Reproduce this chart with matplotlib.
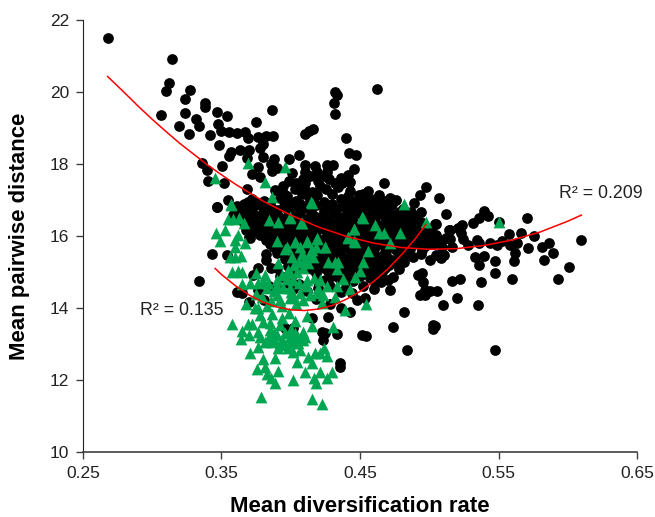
import matplotlib
matplotlib.use('Agg')
import matplotlib.pyplot as plt

plt.rcParams['font.family'] = ['Liberation Sans', 'DejaVu Sans']

# values
x_ticks = [0.25, 0.35, 0.45, 0.55, 0.65]
x_tick_labels = ['0.25', '0.35', '0.45', '0.55', '0.65']
y_ticks = [10, 12, 14, 16, 18, 20, 22]

# upper left scatter
black_upper = [
    (.2678,21.49),(.3145,20.91),(.3123,20.25),(.3099,20.04),(.3272,20.06),(.3236,19.80),(.3383,19.69),
    (.3378,19.59),(.3236,19.42),(.3065,19.37),(.3467,19.44),(.3542,19.33),(.3316,19.24),(.3335,19.05),
    (.3193,19.06),(.3267,18.83),(.3414,18.81),(.3477,19.12),(.3499,18.92),(.3554,18.88),(.3614,18.85),
    (.3669,18.90),(.3689,18.73),(.3766,18.75),(.3821,18.79),(.3869,18.78),(.3862,19.50),(.3746,19.17),
    (.3482,18.52),(.3799,18.56),(.3780,18.44),(.3568,18.34),(.3551,18.23),(.3636,18.38),(.3696,18.38),
    (.3799,18.19),(.3879,18.13),(.3361,18.03),(.3395,17.82),(.3503,17.94),(.3405,17.53),(.3520,17.47),
    (.3681,17.30),(.3763,17.93),(.3720,17.73),(.3778,17.65),(.3855,17.99),(.3867,17.81),(.3898,17.88),
    (.3681,18.16),(.3547,16.99),(.3689,16.94),(.3465,16.81),(.3889,17.28),
    (.4317,20.01),(.4331,19.92),(.4622,20.08),(.4314,19.70),(.4319,19.39),(.4163,18.96),(.4134,18.92),
    (.4103,18.83),(.4401,18.71),(.4418,18.31),(.4473,18.24),(.4057,18.24),(.3989,18.13),(.4459,17.87),
    (.4105,17.97),(.4175,17.94),(.4259,17.97),(.4302,17.98),(.4006,17.74),(.4103,17.79),(.4192,17.79),
    (.4264,17.79),(.4090,17.59),(.4199,17.53),(.4273,17.57),(.4360,17.62),(.4415,17.69),(.4343,17.37),
    (.4430,17.51),(.4675,17.46),(.3941,17.39),(.4030,17.30),(.4095,17.32),(.4254,17.30),(.4426,17.26),
    (.4555,17.26),(.4976,17.36),(.4935,17.15),(.5068,17.06),(.4639,17.14),(.4490,17.14),(.3951,17.18),
    (.4155,17.23),(.4887,16.91),(.4673,16.97),(.4601,16.89),(.4940,16.68),(.5118,16.62),(.4849,16.63),
    (.4865,16.68),(.5046,16.34),(.5150,16.17),(.5150,15.93),(.5024,15.89),
]

# dense middle cloud
black_cloud = [
    (.372,17.02),(.381,16.96),(.392,17.05),(.404,16.98),(.413,17.08),(.424,16.95),(.436,17.04),(.447,16.97),(.455,17.06),(.468,16.94),(.476,16.99),
    (.361,16.83),(.372,16.76),(.378,16.85),(.386,16.78),(.395,16.84),(.402,16.75),(.411,16.82),(.418,16.86),(.428,16.77),(.437,16.83),(.446,16.76),(.455,16.84),(.463,16.78),(.472,16.82),(.481,16.75),
    (.358,16.58),(.367,16.64),(.376,16.56),(.384,16.62),(.391,16.55),(.399,16.63),(.406,16.57),(.415,16.61),(.423,16.54),(.431,16.63),(.440,16.58),(.449,16.64),(.456,16.55),(.466,16.61),(.474,16.57),(.483,16.52),(.490,16.46),
    (.366,16.37),(.374,16.44),(.381,16.36),(.389,16.42),(.397,16.35),(.404,16.43),(.412,16.38),(.420,16.44),(.429,16.36),(.437,16.41),(.446,16.35),(.453,16.43),(.461,16.37),(.470,16.42),(.478,16.36),(.487,16.32),(.495,16.25),
    (.368,16.18),(.375,16.24),(.383,16.16),(.391,16.22),(.398,16.15),(.406,16.23),(.413,16.17),(.422,16.21),(.430,16.14),(.438,16.22),(.447,16.16),(.455,16.23),(.463,16.18),(.471,16.21),(.480,16.14),(.489,16.10),(.497,16.06),(.505,16.02),
    (.370,15.98),(.378,16.04),(.386,15.96),(.394,16.02),(.402,15.95),(.410,16.03),(.418,15.97),(.426,16.02),(.434,15.95),(.441,16.04),(.450,15.97),(.458,16.02),(.466,15.95),(.474,16.03),(.482,15.96),(.490,15.93),(.498,15.88),(.507,15.84),
    (.385,15.78),(.393,15.84),(.400,15.76),(.408,15.82),(.416,15.75),(.425,15.83),(.433,15.77),(.441,15.82),(.449,15.75),(.457,15.83),(.465,15.77),(.473,15.81),(.481,15.74),(.489,15.78),(.497,15.72),(.509,15.70),
    (.392,15.62),(.401,15.57),(.410,15.64),(.418,15.56),(.426,15.63),(.435,15.55),(.443,15.62),(.451,15.57),(.460,15.63),(.468,15.55),(.476,15.61),(.484,15.52),(.494,15.50),
    (.408,15.38),(.416,15.44),(.424,15.36),(.432,15.42),(.440,15.35),(.448,15.43),(.456,15.37),(.464,15.42),(.473,15.34),(.482,15.28),
    (.412,15.18),(.420,15.24),(.428,15.16),(.436,15.22),(.445,15.15),(.453,15.23),(.462,15.17),(.471,15.20),(.478,15.08),
    (.418,14.98),(.427,15.04),(.436,14.96),(.446,15.02),(.455,14.95),(.466,15.00),(.474,14.86),
    (.425,14.78),(.435,14.84),(.445,14.76),(.457,14.82),(.465,14.72),
    (.440,14.58),(.452,14.62),(.460,14.52),
]

# second pass over the solid part of the cloud
black_fill = [
    (.397,17.12),(.408,17.16),(.419,17.14),(.430,17.18),(.441,17.12),(.452,17.16),(.461,17.04),(.472,17.06),
    (.399,17.52),(.410,17.46),(.421,17.40),(.432,17.46),(.414,17.66),(.425,17.66),(.437,17.48),(.404,17.48),
    (.366,16.90),(.376,16.92),(.385,16.90),(.397,16.92),(.407,16.90),(.416,16.94),(.430,16.90),(.441,16.90),(.451,16.90),(.460,16.92),(.473,16.90),
    (.362,16.70),(.370,16.70),(.381,16.70),(.390,16.72),(.398,16.70),(.407,16.68),(.414,16.72),(.424,16.70),(.433,16.72),(.443,16.70),(.451,16.72),(.460,16.68),(.469,16.72),(.478,16.68),(.487,16.62),
    (.362,16.50),(.371,16.50),(.380,16.48),(.387,16.52),(.395,16.48),(.402,16.52),(.410,16.48),(.418,16.52),(.427,16.48),(.435,16.52),(.444,16.48),(.452,16.52),(.461,16.50),(.469,16.50),(.479,16.46),(.486,16.42),(.494,16.38),
    (.371,16.30),(.378,16.30),(.386,16.32),(.393,16.30),(.401,16.28),(.408,16.32),(.416,16.30),(.425,16.28),(.433,16.30),(.442,16.30),(.450,16.30),(.458,16.30),(.466,16.30),(.475,16.30),(.483,16.24),(.492,16.18),(.501,16.12),
    (.372,16.10),(.380,16.10),(.388,16.08),(.396,16.10),(.403,16.10),(.410,16.08),(.418,16.10),(.426,16.10),(.434,16.08),(.443,16.10),(.451,16.08),(.459,16.12),(.467,16.08),(.476,16.10),(.484,16.06),(.493,16.02),(.502,15.96),(.512,15.94),
    (.382,15.90),(.390,15.90),(.398,15.88),(.406,15.90),(.414,15.88),(.422,15.90),(.430,15.88),(.438,15.92),(.446,15.88),(.454,15.90),(.462,15.88),(.470,15.90),(.478,15.88),(.486,15.86),(.494,15.82),(.503,15.78),
    (.388,15.70),(.397,15.70),(.405,15.70),(.413,15.70),(.421,15.70),(.429,15.70),(.437,15.70),(.445,15.70),(.453,15.68),(.461,15.72),(.470,15.68),(.478,15.70),(.486,15.64),(.495,15.60),
    (.403,15.48),(.412,15.50),(.420,15.50),(.428,15.48),(.436,15.48),(.444,15.50),(.452,15.48),(.460,15.50),(.469,15.48),(.478,15.44),(.488,15.42),
    (.410,15.30),(.418,15.30),(.426,15.28),(.434,15.30),(.442,15.28),(.450,15.30),(.458,15.30),(.467,15.30),(.476,15.24),
    (.415,15.08),(.424,15.10),(.432,15.08),(.441,15.10),(.450,15.08),(.459,15.10),(.468,15.10),
    (.384,14.62),(.391,14.58),(.398,14.70),(.406,14.66),(.412,14.48),(.420,14.56),(.428,14.62),(.436,14.44),(.444,14.42),
    (.430,14.90),(.440,14.88),(.450,14.88),(.461,14.88),(.470,14.78),(.418,14.24),(.428,14.10),(.436,14.00),
    (.376,15.10),(.382,15.32),(.390,15.12),(.398,15.16),(.404,15.02),(.392,14.90),(.400,14.86),(.376,14.50),
]

# left and lower black points
black_lower = [
    (.3466,16.81),(.3687,16.93),(.3646,16.65),(.3682,16.56),(.3432,15.49),(.3538,15.47),(.3338,14.75),
    (.3706,15.94),(.3822,15.49),(.3858,15.12),(.3803,16.07),(.3610,14.45),(.3646,14.41),(.3730,14.92),
    (.3699,14.18),(.3807,14.22),(.4356,12.46),(.4356,12.37),(.4517,13.26),(.4541,13.23),(.4272,13.76),
    (.4248,13.31),(.4332,13.27),(.4152,13.71),(.4019,13.44),(.3959,13.44),(.4236,13.11),(.4428,13.90),
    (.4537,14.27),(.4224,13.34),(.4019,14.52),(.4188,14.78),(.3947,14.87),(.3899,15.52),(.3959,15.35),
    (.4043,15.24),(.4477,14.22),(.4839,12.83),(.4738,13.47),(.4818,13.89),(.4969,14.36),(.4717,14.50),
    (.4608,14.69),(.4644,15.19),(.4789,15.61),(.5005,15.33),(.4919,14.92),
]

# right hand tail
black_right = [
    (.5398,16.69),(.5422,16.56),(.5359,16.49),(.5318,16.35),(.5501,16.38),(.5706,16.51),(.5044,16.32),
    (.5234,16.30),(.5145,16.17),(.5210,16.21),(.5229,16.07),(.5576,16.05),(.5665,16.09),(.5754,16.00),
    (.6096,15.89),(.5867,15.80),(.5812,15.70),(.5710,15.66),(.5891,15.54),(.5831,15.32),(.6007,15.14),
    (.5932,14.80),(.5597,14.81),(.5475,14.98),(.5374,14.73),(.5477,15.31),(.5614,15.31),(.5361,15.19),
    (.5330,15.41),(.5398,15.45),(.5619,15.52),(.5583,15.75),(.5487,15.75),(.5438,15.80),(.5523,15.86),
    (.5631,15.80),(.5342,15.89),(.5361,15.80),(.5282,15.75),(.5246,15.92),(.5162,15.70),(.5065,15.93),
    (.5029,15.89),(.5077,15.80),(.5049,15.47),(.5082,15.38),(.5106,15.47),(.4945,14.96),(.4957,14.73),
    (.5222,14.81),(.5166,14.76),(.5053,14.48),(.5005,14.48),(.4969,14.50),(.4933,14.36),(.5200,14.28),
    (.5101,14.09),(.5354,14.09),(.5024,13.53),(.5041,13.51),(.5024,13.41),(.5477,12.83),
]

green_points = [
    (.3694,18.04),(.3450,17.61),(.3814,17.51),(.3862,17.09),(.3568,16.88),(.3956,17.91),(.4148,16.95),
    (.4820,16.89),(.4976,16.38),(.4519,16.51),(.4459,16.19),(.4608,16.30),(.4637,16.09),(.4676,16.07),
    (.4788,16.07),(.4415,15.98),(.4464,15.84),(.4716,15.80),(.3994,16.51),(.4078,16.37),(.4187,15.93),
    (.4115,15.84),(.4030,15.84),(.4247,15.70),(.3970,15.70),(.5501,16.38),
    (.3569,16.87),(.4156,16.93),(.3550,16.46),(.3581,16.46),(.3629,16.49),(.3663,16.35),(.3846,16.44),
    (.3906,16.40),(.3995,16.52),(.4072,16.35),(.4517,16.52),(.3461,16.09),(.3526,16.17),(.3617,16.03),
    (.3490,15.86),(.3598,15.89),(.3670,15.80),(.3598,15.70),(.3899,15.86),(.4031,15.84),(.4120,15.87),
    (.4188,15.94),(.4248,15.70),(.4416,15.94),(.4457,16.19),(.4457,15.87),(.4556,15.59),(.3959,15.63),
    (.4067,15.69),(.4152,15.61),(.4164,15.43),(.3562,15.41),(.3598,15.43),(.3641,15.44),(.3911,15.26),
    (.4012,15.43),(.4272,15.29),(.4320,15.29),(.4344,15.29),(.4525,15.29),(.3574,15.01),(.3622,15.04),
    (.3646,15.01),(.4332,15.07),(.4501,15.04),(.4464,14.87),(.4127,15.24),(.4091,15.10),(.4043,15.01),
    (.3995,14.96),(.3646,14.67),(.3706,14.70),(.3747,14.96),(.3815,14.92),(.3766,14.69),(.3839,14.69),
    (.3904,14.78),(.3971,14.80),(.4019,14.78),(.4115,14.78),(.4168,14.82),(.4212,14.78),(.4375,14.80),
    (.4332,14.61),(.4428,14.52),(.4115,14.61),(.4188,14.41),(.4236,14.36),(.4320,14.31),(.3827,14.55),
    (.3899,14.36),(.3947,14.55),(.3995,14.55),(.4067,14.41),(.3923,14.22),(.3995,14.27),(.4091,14.22),
    (.4224,14.13),(.4392,13.94),(.4542,14.10),(.3677,14.11),(.3766,13.99),(.3742,13.99),(.3863,13.83),
    (.3935,13.71),(.4031,13.65),(.4115,13.78),(.3990,13.85),(.3778,13.81),(.3798,13.62),(.3851,13.57),
    (.3579,13.56),(.3646,13.37),(.3694,13.55),(.3718,13.55),(.4152,13.50),(.4303,13.48),(.3999,13.41),
    (.4091,13.34),(.3766,13.34),(.3699,13.25),(.3639,13.13),(.3851,13.25),(.3904,13.25),(.3995,13.19),
    (.4055,13.20),(.4103,13.19),(.3815,13.06),(.3863,13.06),(.3923,13.02),(.3995,13.02),(.4055,13.02),
    (.4091,13.11),(.3766,12.93),(.3911,12.88),(.3983,12.88),(.4019,12.79),(.4067,12.83),(.3706,12.74),
    (.4241,12.90),(.4212,12.76),(.4176,12.74),(.4265,12.67),(.4128,12.65),(.4152,12.46),(.3887,12.60),
    (.4043,12.51),(.3803,12.57),(.3759,12.30),(.3815,12.37),(.3831,12.17),(.3911,12.25),(.4103,12.23),
    (.4212,12.23),(.4296,12.23),(.3858,12.05),(.4019,12.00),(.4168,12.05),(.4260,12.05),(.3887,11.91),
    (.4183,11.91),(.3786,11.52),(.4156,11.46),(.4224,11.33),
    (.3780,13.20),(.3880,13.12),(.3940,13.10),(.4010,13.10),(.3850,13.40),(.3960,13.30),(.3790,14.30),
    (.3860,14.20),(.3940,14.05),(.4040,14.10),(.3830,14.05),(.3900,14.60),(.4060,14.70),(.4140,14.35),
    (.3750,14.40),(.4080,15.50),(.4060,15.28),(.4020,15.20),(.4100,15.36),(.4140,15.52),(.4180,15.70),
    (.3940,14.92),(.3980,15.05),(.4000,14.45),(.3880,14.48),(.3800,14.72),(.4020,14.30),(.4200,14.55),
    (.4260,14.62),(.3920,13.52),(.3880,13.30),(.4030,13.30),(.3960,12.98),(.3840,13.18),
]

# trendlines
trend_black_x = [.2678,.28,.29,.30,.31,.32,.33,.34,.35,.36,.38,.40,.42,.44,.46,.48,.50,.52,.54,.56,.58,.60,.6098]
trend_black_y = [20.43,19.98,19.60,19.24,18.90,18.57,18.27,17.97,17.70,17.44,16.97,16.58,16.25,15.99,15.80,15.68,15.63,15.65,15.74,15.89,16.11,16.41,16.58]
trend_green_x = [.3454,.35,.36,.37,.38,.39,.40,.41,.42,.43,.44,.45,.46,.47,.48,.49,.4976]
trend_green_y = [15.10,14.93,14.62,14.36,14.16,14.03,13.95,13.93,13.97,14.07,14.24,14.46,14.74,15.08,15.48,15.93,16.32]

black_points = black_upper + black_cloud + black_fill + black_lower + black_right

fig = plt.figure(figsize=(6.55, 5.17), dpi=100)
ax = fig.add_axes([83/655, 1 - 452/517, 554/655, 432/517])

ax.scatter(*zip(*black_points), s=60, c='black', marker='o', linewidths=0, clip_on=False, zorder=2)
ax.scatter(*zip(*green_points), s=72, c='#00A651', marker='^', linewidths=0, clip_on=False, zorder=3)
ax.plot(trend_black_x, trend_black_y, color='#FF0000', lw=1.1, zorder=4)
ax.plot(trend_green_x, trend_green_y, color='#FF0000', lw=1.1, zorder=4)

ax.set_xlim(0.25, 0.65)
ax.set_ylim(10, 22)
ax.set_xticks(x_ticks, x_tick_labels)
ax.set_yticks(y_ticks)
ax.tick_params(axis='both', labelsize=12.5, length=5, width=1, color='#404040', labelcolor='#222222', pad=5)

ax.spines['top'].set_visible(False)
ax.spines['right'].set_visible(False)
ax.spines['left'].set_color('#222222')
ax.spines['bottom'].set_color('#404040')
ax.spines['bottom'].set_linewidth(1.2)

ax.set_xlabel('Mean diversification rate', fontsize=15.9, fontweight='bold', labelpad=11)
ax.set_ylabel('Mean pairwise distance', fontsize=15.9, fontweight='bold', labelpad=14)

ax.text(0.5937, 17.17, 'R² = 0.209', fontsize=12.8, color='#222222', va='center')
ax.text(0.291, 13.94, 'R² = 0.135', fontsize=12.8, color='#222222', va='center')

fig.savefig('out.png', dpi=100)
